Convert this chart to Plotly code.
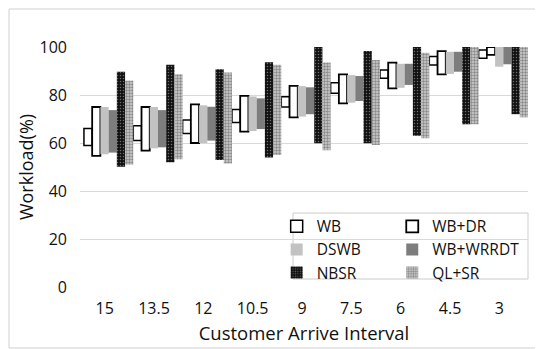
import plotly.graph_objects as go

categories = ["15", "13.5", "12", "10.5", "9", "7.5", "6", "4.5", "3"]
series_names = ["WB", "WB+DR", "DSWB", "WB+WRRDT", "NBSR", "QL+SR"]

wb_low = [59, 61, 64, 68.5, 75, 80.7, 87, 92.5, 95.3]
wb_high = [66, 67.2, 69.6, 74, 79.3, 85.1, 90.4, 96, 98.8]
wbdr_low = [54.6, 56.8, 60, 64.7, 70.7, 76.5, 82.8, 88.6, 96.7]
wbdr_high = [75, 75, 76.1, 79.6, 83.8, 88.6, 93.5, 98.3, 100]
dswb_low = [55.3, 57.8, 60, 65, 71, 76.8, 83, 88.8, 91.8]
dswb_high = [75, 75, 75.7, 79.4, 83.7, 88.3, 93, 98, 100]
wrrdt_low = [56, 58.2, 61, 65.8, 72, 77.5, 84.2, 89.7, 92.8]
wrrdt_high = [73.7, 73.7, 75.1, 78.6, 83.2, 87.9, 93, 98, 100]
nbsr_low = [50.1, 52, 52.9, 54, 59.9, 59.9, 63, 67.8, 72]
nbsr_high = [89.7, 92.6, 90.7, 93.6, 100, 98.3, 100, 100, 100]
qlsr_low = [51, 53.2, 51.5, 55, 57, 59.2, 62, 67.8, 70.7]
qlsr_high = [86, 88.6, 89.4, 92.6, 93.5, 94.6, 97.6, 100, 100]

lows = [wb_low, wbdr_low, dswb_low, wrrdt_low, nbsr_low, qlsr_low]
highs = [wb_high, wbdr_high, dswb_high, wrrdt_high, nbsr_high, qlsr_high]

styles = [
    dict(color="white", line=dict(color="black", width=1.5)),
    dict(color="white", line=dict(color="black", width=1.8)),
    dict(color="#c2c2c2", line=dict(color="#c2c2c2", width=0)),
    dict(color="#7d7d7d", line=dict(color="#7d7d7d", width=0)),
    dict(color="#111111", line=dict(color="#111111", width=0),
         pattern=dict(shape=".", bgcolor="#111111", fgcolor="#cccccc", size=3, solidity=0.2)),
    dict(color="#444444", line=dict(color="#888888", width=0),
         pattern=dict(shape=".", bgcolor="#d0d0d0", fgcolor="#404040", size=3, solidity=0.5)),
]
legends = ["legend", "legend2", "legend", "legend2", "legend", "legend2"]

FONT = "Open Sans"
n = len(series_names)
w = 1.0 / n
shift = 0.08

# page body has an 8px margin: plot area lands at screen x 80..528, y 47..287
W, H = 535, 341
L, T = 72, 39
R = W - 520
B = H - 279
PW, PH = 448, 240

fig = go.Figure()
for i, name in enumerate(series_names):
    fig.add_trace(go.Bar(
        x=list(range(len(categories))),
        y=[h - l for h, l in zip(highs[i], lows[i])],
        base=lows[i],
        name=name,
        width=w,
        offset=-0.5 + i * w + shift,
        marker=styles[i],
        legend=legends[i],
    ))

fig.update_layout(
    width=W, height=H,
    margin=dict(l=L, r=R, t=T, b=B, autoexpand=False),
    paper_bgcolor="white", plot_bgcolor="white",
    barmode="overlay",
    font=dict(family=FONT, color="#222222"),
    showlegend=True,
    legend=dict(x=0.439, y=0.322, xanchor="left", yanchor="top",
                bgcolor="rgba(0,0,0,0)", font=dict(size=15.5, family=FONT, color="#111111"),
                tracegroupgap=0, itemwidth=30),
    legend2=dict(x=0.697, y=0.322, xanchor="left", yanchor="top",
                 bgcolor="rgba(0,0,0,0)", font=dict(size=15.5, family=FONT, color="#111111"),
                 tracegroupgap=0, itemwidth=30),
    xaxis=dict(
        automargin=False,
        tickmode="array", tickvals=list(range(len(categories))), ticktext=categories,
        range=[-0.5, 8.58], showgrid=False, zeroline=False, showline=False,
        ticklabelstandoff=10,
        tickfont=dict(size=16, family=FONT, color="#111111"),
        title=dict(text="Customer Arrive Interval", font=dict(size=18.5, family=FONT, color="#111111"), standoff=9),
    ),
    yaxis=dict(
        automargin=False,
        range=[0, 100], tickvals=[0, 20, 40, 60, 80, 100],
        showgrid=True, gridcolor="#d9d9d9", gridwidth=1, zeroline=False,
        showline=False, ticklabelstandoff=12,
        tickfont=dict(size=16, family=FONT, color="#111111"),
        title=dict(text="Workload(%)", font=dict(size=18, family=FONT, color="#111111"), standoff=1),
    ),
    shapes=[
        dict(type="rect", xref="paper", yref="paper",
             x0=(293 - 80) / PW, x1=(528 - 80) / PW,
             y0=(287 - 279) / PH, y1=(287 - 213) / PH,
             line=dict(color="#cccccc", width=1), fillcolor="rgba(255,255,255,1)", layer="below"),
        dict(type="rect", xref="paper", yref="paper",
             x0=(9 - 80) / PW, x1=(542 - 80) / PW,
             y0=(287 - 348) / PH, y1=(287 - 9) / PH,
             line=dict(color="#d0d0d0", width=1), fillcolor="rgba(0,0,0,0)", layer="below"),
    ],
)

fig.write_html("out.html")
